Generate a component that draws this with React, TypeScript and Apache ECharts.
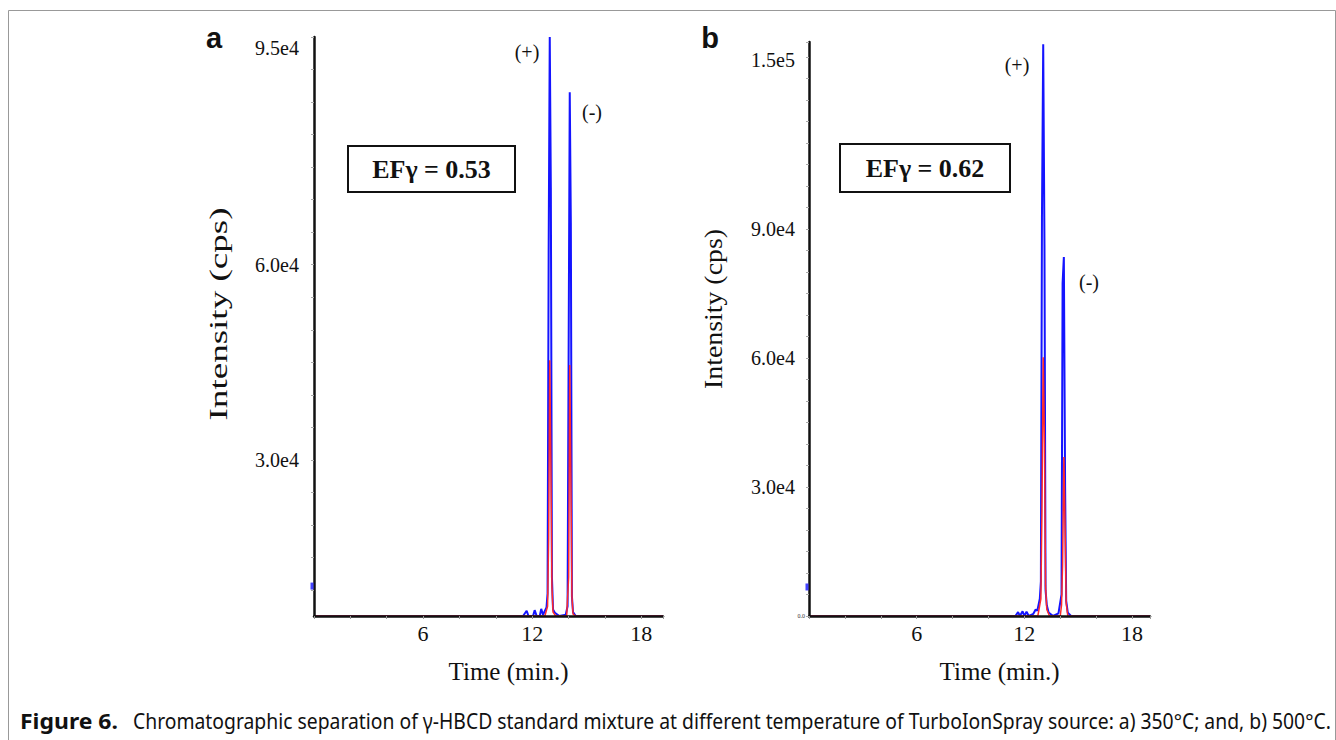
import React, { useEffect, useRef } from "react";
import * as echarts from "echarts";

// ---------- data ----------
const xLabelValues = [6, 12, 18];

// Panel a (350 °C)
const timeBlueA = [0, 11.5, 11.7, 11.8, 12.05, 12.14, 12.25, 12.42, 12.5, 12.6, 12.79, 12.85, 12.91, 12.97, 13.03, 13.09, 13.15, 13.25, 13.5, 13.85, 13.95, 14.01, 14.07, 14.13, 14.19, 14.25, 14.4, 19.2];
const intBlueA = [6000, 6000, 6800, 6000, 6000, 6900, 6000, 6000, 7100, 6200, 7300, 9500, 62500, 95000, 71800, 12000, 7000, 6500, 6000, 6200, 7500, 48000, 86500, 66500, 9000, 6600, 6000, 6000];
const timeRedA = [0, 12.7, 12.85, 12.91, 12.97, 13.03, 13.09, 13.15, 13.3, 13.9, 14.01, 14.07, 14.13, 14.19, 14.25, 14.4, 19.2];
const intRedA = [6000, 6000, 7500, 18000, 45300, 30000, 10500, 6600, 6000, 6000, 12000, 44600, 28000, 9000, 6300, 6000, 6000];
const yLabelValuesA = [30000, 60000, 95000];
const yLabelTextsA = ["3.0e4", "6.0e4", "9.5e4"];
const markerA = [0, 10600];

// Panel b (500 °C)
const timeBlueB = [0, 11.5, 11.65, 11.75, 11.9, 12.0, 12.12, 12.25, 12.5, 12.63, 12.72, 12.86, 12.92, 12.98, 13.05, 13.12, 13.18, 13.25, 13.35, 13.6, 13.9, 14.07, 14.13, 14.2, 14.27, 14.33, 14.42, 14.6, 19];
const intBlueB = [0, 0, 900, 0, 1100, 0, 1000, 0, 500, 1500, 1200, 4000, 8000, 92600, 133000, 86300, 6000, 2500, 800, 0, 600, 5000, 77400, 83500, 30000, 3500, 800, 0, 0];
const timeRedB = [0, 12.75, 12.92, 12.98, 13.05, 13.12, 13.18, 13.25, 13.4, 14.0, 14.07, 14.13, 14.2, 14.27, 14.33, 14.42, 19];
const intRedB = [0, 0, 4000, 25000, 60200, 40000, 7000, 1500, 0, 0, 2500, 12000, 37000, 20000, 3000, 0, 0];
const yLabelValuesB = [0, 30000, 60000, 90000, 133500];
const yLabelTextsB = ["0.0", "3.0e4", "6.0e4", "9.0e4", "1.5e5"];
const markerB = [0, 6750];

const efTexts = ["EFγ = 0.53", "EFγ = 0.62"];
const panelLetters = ["a", "b"];
const captionBold = "Figure 6.";
const captionText =
  "Chromatographic separation of γ-HBCD standard mixture at different temperature of TurboIonSpray source: a) 350°C; and, b) 500°C.";

// ---------- helpers ----------
const SERIF = '"Liberation Serif", "Times New Roman", serif';
const SANS = '"Liberation Sans", Arial, sans-serif';
const CAP = '"Noto Sans", "Open Sans", sans-serif';
const BLUE = "#1414ff";
const RED = "#ff2a2a";

function measure(str: string, font: string): number {
  const c = document.createElement("canvas").getContext("2d");
  if (!c) return str.length * 10;
  c.font = font;
  return c.measureText(str).width;
}

const zip = (t: number[], v: number[]) => t.map((x, i) => [x, v[i]]);

function xAxisCfg(gridIndex: number, max: number) {
  return {
    type: "value",
    gridIndex,
    min: 0,
    max,
    interval: 2,
    z: 5,
    axisLine: { show: true, onZero: false, lineStyle: { color: "#111", width: 2.5 } },
    axisTick: { show: true, length: 3, lineStyle: { color: "#999", width: 1 } },
    axisLabel: {
      formatter: (v: number) => (xLabelValues.includes(v) ? String(v) : ""),
      fontFamily: SERIF,
      fontSize: 22,
      color: "#111",
      margin: 6,
    },
    splitLine: { show: false },
    name: "Time (min.)",
    nameLocation: "middle",
    nameGap: 43,
    nameTextStyle: { fontFamily: SERIF, fontSize: 25, color: "#111", padding: [0, 0, 0, 40] },
  };
}

export default function App() {
  const ref = useRef<HTMLDivElement>(null);

  useEffect(() => {
    if (!ref.current) return;
    const chart = echarts.init(ref.current, undefined, { renderer: "svg" });

    const ticksA: number[] = [];
    for (let v = 10000; v <= 95000; v += 5000) ticksA.push(v);

    const titleFont = `26px ${SERIF}`;
    const titleW = measure("Intensity (cps)", titleFont);
    const capBoldFont = `bold 22px ${CAP}`;
    const capFont = `22px ${CAP}`;
    const capBoldW = measure(captionBold, capBoldFont);
    const capW = measure(captionText, capFont);

    const yLabelRich = (size: number, padRight: number) => ({
      n: { fontFamily: SERIF, fontSize: size, color: "#111", padding: [0, padRight, 0, 0] },
      s: { fontFamily: SERIF, fontSize: 6, color: "#333", padding: [0, 0, 0, 0] },
    });

    const lineSeries = (name: string, data: number[][], idx: number, color: string, width: number) => ({
      name,
      type: "line",
      xAxisIndex: idx,
      yAxisIndex: idx,
      data,
      showSymbol: false,
      symbol: "none",
      silent: true,
      lineStyle: { color, width },
      z: 2,
    });

    const efBox = (x: number, y: number, w: number, h: number, text: string) => [
      {
        type: "rect",
        shape: { x, y, width: w, height: h },
        style: { fill: "#fff", stroke: "#111", lineWidth: 2 },
        z: 10,
      },
      {
        type: "text",
        x: x + w / 2,
        y: y + h / 2,
        style: {
          text,
          font: `bold 26px ${SERIF}`,
          fill: "#111",
          textAlign: "center",
          textVerticalAlign: "middle",
        },
        z: 11,
      },
    ];

    const txt = (x: number, y: number, text: string, font: string, extra: any = {}) => ({
      type: "text",
      x,
      y,
      ...extra,
      style: { text, font, fill: "#111", textAlign: "center", textVerticalAlign: "middle" },
      z: 11,
    });

    chart.setOption({
      animation: false,
      backgroundColor: "#fff",
      grid: [
        { left: 314, top: 37, width: 349, height: 579 },
        { left: 809, top: 42, width: 341, height: 574 },
      ],
      xAxis: [xAxisCfg(0, 19.2), xAxisCfg(1, 19)],
      yAxis: [
        {
          type: "value",
          gridIndex: 0,
          min: 6000,
          max: 95000,
          z: 5,
          axisLine: { show: true, lineStyle: { color: "#111", width: 2.5 } },
          axisTick: { show: true, length: 3, customValues: ticksA, lineStyle: { color: "#aaa", width: 1 } },
          axisLabel: {
            customValues: yLabelValuesA,
            formatter: (v: number) => {
              const i = yLabelValuesA.indexOf(v);
              if (i < 0) return "";
              return i === yLabelValuesA.length - 1 ? `{t|${yLabelTextsA[i]}}` : `{n|${yLabelTextsA[i]}}`;
            },
            margin: 15,
            fontFamily: SERIF,
            fontSize: 20,
            color: "#111",
            rich: {
              ...yLabelRich(20, 0),
              t: { fontFamily: SERIF, fontSize: 20, color: "#111", padding: [22, 0, 0, 0] },
            },
          },
          splitLine: { show: false },
        },
        {
          type: "value",
          gridIndex: 1,
          min: 0,
          max: 133500,
          interval: 5000,
          z: 5,
          axisLine: { show: true, lineStyle: { color: "#111", width: 2.5 } },
          axisTick: { show: true, length: 3, lineStyle: { color: "#aaa", width: 1 } },
          axisLabel: {
            customValues: yLabelValuesB,
            formatter: (v: number) => {
              const i = yLabelValuesB.indexOf(v);
              if (i < 0) return "";
              if (i === 0) return `{s|${yLabelTextsB[i]}}`;
              return i === yLabelValuesB.length - 1 ? `{t|${yLabelTextsB[i]}}` : `{n|${yLabelTextsB[i]}}`;
            },
            margin: 4,
            fontFamily: SERIF,
            fontSize: 20,
            color: "#111",
            rich: {
              ...yLabelRich(20, 10),
              t: { fontFamily: SERIF, fontSize: 20, color: "#111", padding: [36, 10, 0, 0] },
            },
          },
          splitLine: { show: false },
        },
      ],
      series: [
        lineSeries("blue a", zip(timeBlueA, intBlueA), 0, BLUE, 2),
        lineSeries("red a", zip(timeRedA, intRedA), 0, RED, 1.5),
        lineSeries("blue b", zip(timeBlueB, intBlueB), 1, BLUE, 2),
        lineSeries("red b", zip(timeRedB, intRedB), 1, RED, 1.5),
        {
          type: "scatter",
          xAxisIndex: 0,
          yAxisIndex: 0,
          data: [markerA],
          symbol: "rect",
          symbolSize: [3, 7],
          symbolOffset: [-2, 0],
          itemStyle: { color: BLUE },
          silent: true,
          z: 6,
        },
        {
          type: "scatter",
          xAxisIndex: 1,
          yAxisIndex: 1,
          data: [markerB],
          symbol: "rect",
          symbolSize: [3, 7],
          symbolOffset: [-2, 0],
          itemStyle: { color: BLUE },
          silent: true,
          z: 6,
        },
      ],
      graphic: [
        {
          type: "rect",
          shape: { x: 8.5, y: 10.5, width: 1327, height: 740 },
          style: { fill: "none", stroke: "#999", lineWidth: 1 },
          z: 1,
        },
        txt(214, 38, panelLetters[0], `bold 29px ${SANS}`),
        txt(710, 38, panelLetters[1], `bold 29px ${SANS}`),
        ...efBox(348, 146, 167, 46, efTexts[0]),
        ...efBox(840, 144, 170, 48, efTexts[1]),
        txt(527, 52, "(+)", `20px ${SERIF}`),
        txt(592, 112, "(-)", `20px ${SERIF}`),
        txt(1017, 65, "(+)", `20px ${SERIF}`),
        txt(1089, 282, "(-)", `20px ${SERIF}`),
        txt(218, 314, "Intensity (cps)", titleFont, { rotation: Math.PI / 2, scaleX: 213 / titleW }),
        txt(713, 309, "Intensity (cps)", titleFont, { rotation: Math.PI / 2, scaleX: 160 / titleW }),
        {
          type: "text",
          x: 20,
          y: 721,
          scaleX: 98 / capBoldW,
          style: { text: captionBold, font: capBoldFont, fill: "#111", textAlign: "left", textVerticalAlign: "middle" },
          z: 11,
        },
        {
          type: "text",
          x: 133,
          y: 721,
          scaleX: 1198 / capW,
          style: { text: captionText, font: capFont, fill: "#111", textAlign: "left", textVerticalAlign: "middle" },
          z: 11,
        },
      ],
    });

    return () => chart.dispose();
  }, []);

  return (
    <div
      ref={ref}
      style={{ position: "absolute", left: 0, top: 0, width: 1336, height: 740, background: "#fff" }}
    />
  );
}
